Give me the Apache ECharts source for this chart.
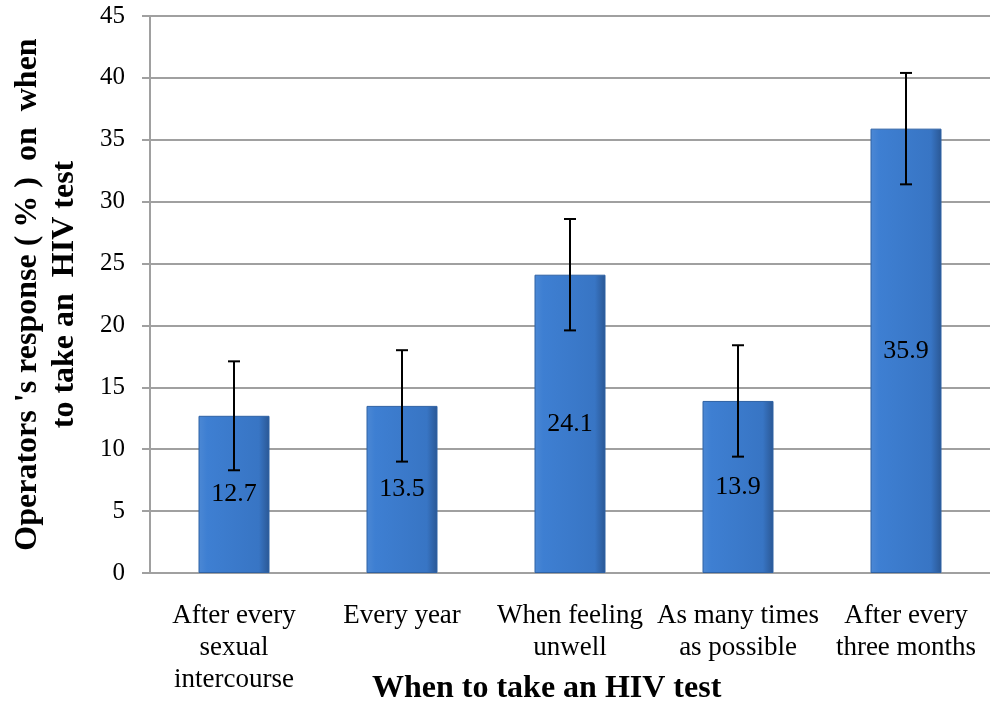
<!DOCTYPE html>
<html>
<head>
<meta charset="utf-8">
<script src="https://cdn.jsdelivr.net/npm/echarts@6/dist/echarts.min.js"></script>
<style>html,body{margin:0;padding:0;background:#fff;}#c{width:990px;height:708px;}</style>
</head>
<body>
<div id="c"></div>
<script>
var categories = ['After every\nsexual\nintercourse', 'Every year', 'When feeling\nunwell', 'As many times\nas possible', 'After every\nthree months'];
var values = [12.7, 13.5, 24.1, 13.9, 35.9];
var errLow = [8.3, 9.0, 19.6, 9.4, 31.4];
var errHigh = [17.1, 18.0, 28.6, 18.4, 40.4];
var yTicks = [0, 5, 10, 15, 20, 25, 30, 35, 40, 45];

var chart = echarts.init(document.getElementById('c'));
var font = '"Liberation Serif", "Times New Roman", serif';
var errData = categories.map(function (c, i) { return [i, errLow[i], errHigh[i]]; });

chart.setOption({
  animation: false,
  grid: { left: 150, right: 0, top: 16, bottom: 135 },
  xAxis: {
    type: 'category',
    data: categories,
    axisLine: { show: true, lineStyle: { color: '#a0a0a0', width: 2 } },
    axisTick: { show: false },
    axisLabel: { color: '#000', fontFamily: font, fontSize: 27, lineHeight: 32, margin: 27, interval: 0 }
  },
  yAxis: {
    type: 'value',
    min: 0, max: 45, interval: 5,
    name: "Operators 's response ( % )  on  when\nto take an  HIV test",
    nameLocation: 'middle',
    nameGap: 67,
    nameTextStyle: { color: '#000', fontFamily: font, fontSize: 32, fontWeight: 'bold', lineHeight: 37 },
    axisLine: { show: true, lineStyle: { color: '#a0a0a0', width: 2 } },
    axisTick: { show: true, length: 8, lineStyle: { color: '#a0a0a0', width: 2 } },
    axisLabel: { color: '#000', fontFamily: font, fontSize: 25, margin: 25,
      formatter: function (v) { return yTicks.indexOf(v) >= 0 ? String(v) : ''; } },
    splitLine: { show: true, lineStyle: { color: '#a0a0a0', width: 2 } }
  },
  graphic: [{
    type: 'text', left: 372, top: 673,
    style: { text: 'When to take an HIV test', fill: '#000', font: 'bold 32px ' + font }
  }],
  series: [{
    type: 'bar',
    data: values,
    barWidth: 71,
    itemStyle: {
      color: new echarts.graphic.LinearGradient(0, 0, 1, 0, [
        { offset: 0, color: '#4c88d4' },
        { offset: 0.12, color: '#3e7fd2' },
        { offset: 0.85, color: '#3875c4' },
        { offset: 1, color: '#2a5794' }
      ]),
      borderColor: '#2f62a4',
      borderWidth: 1
    },
    label: { show: true, position: 'inside', color: '#000', fontFamily: font, fontSize: 26 },
    z: 2
  }, {
    type: 'custom',
    data: errData,
    z: 5,
    renderItem: function (params, api) {
      var x = api.value(0);
      var lo = api.coord([x, api.value(1)]);
      var hi = api.coord([x, api.value(2)]);
      var cap = 6;
      var style = { stroke: '#000', lineWidth: 2 };
      return {
        type: 'group',
        children: [
          { type: 'line', shape: { x1: lo[0], y1: lo[1], x2: hi[0], y2: hi[1] }, style: style },
          { type: 'line', shape: { x1: lo[0] - cap, y1: lo[1], x2: lo[0] + cap, y2: lo[1] }, style: style },
          { type: 'line', shape: { x1: hi[0] - cap, y1: hi[1], x2: hi[0] + cap, y2: hi[1] }, style: style }
        ]
      };
    }
  }]
});
</script>
</body>
</html>
